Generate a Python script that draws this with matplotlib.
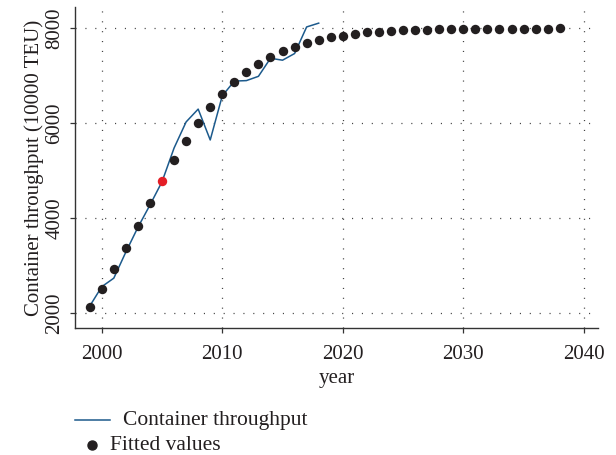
import matplotlib
matplotlib.use("Agg")
import matplotlib.pyplot as plt
from matplotlib.lines import Line2D
import numpy as np

plt.rcParams['font.family'] = ['Liberation Serif', 'DejaVu Serif']

### data
years_obs = list(range(1999, 2019))
throughput = [2150, 2560, 2740, 3290, 3810, 4280, 4770, 5480, 6030, 6300,
              5650, 6580, 6890, 6900, 6990, 7370, 7330, 7470, 8030, 8110]

years_fit = list(range(1999, 2039))
fitted = [2139, 2518, 2940, 3383, 3846, 4325, 4788, 5225, 5638, 6006,
          6337, 6611, 6870, 7081, 7257, 7405, 7525, 7616, 7700, 7757,
          7814, 7848, 7884, 7915, 7930, 7945, 7958, 7968, 7976, 7982,
          7986, 7989, 7991, 7993, 7994, 7995, 7996, 7997, 7997, 7998]
highlight_year = 2005

x_ticks = [2000, 2010, 2020, 2030, 2040]
y_ticks = [2000, 4000, 6000, 8000]

line_color = '#1c5a8c'
dot_color = '#231f20'
red = '#e41e26'
W, H = 616, 455

fig = plt.figure(figsize=(W / 100, H / 100), dpi=100)
ax = fig.add_axes([75 / W, 1 - 328.3 / H, (598.3 - 75) / W, (328.3 - 7) / H])

ax.plot(years_obs, throughput, color=line_color, lw=1.1, zorder=2)

yf = np.array(years_fit)
vf = np.array(fitted)
hl = yf == highlight_year
ax.scatter(yf[~hl], vf[~hl], s=46, color=dot_color, lw=0, zorder=3)
ax.scatter(yf[hl], vf[hl], s=46, color=red, lw=0, zorder=3)

ax.set_xlim(1997.78, 2041.2)
ax.set_ylim(1684, 8450)
ax.set_xticks(x_ticks)
ax.set_yticks(y_ticks)
ax.grid(True, color='#444444', lw=0.9, linestyle=(0, (0.9, 7)))
ax.set_axisbelow(True)

for s in ['top', 'right']:
    ax.spines[s].set_visible(False)
for s in ['left', 'bottom']:
    ax.spines[s].set_color('#333333')
    ax.spines[s].set_linewidth(1.0)

ax.tick_params(direction='out', length=3.8, width=0.9, color='#333333',
               labelsize=15, labelcolor='#231f20')
ax.tick_params(axis='x', pad=8)
ax.tick_params(axis='y', pad=4)
for t in ax.get_yticklabels():
    t.set_rotation(90)
    t.set_va('center')

ax.set_xlabel('year', fontsize=15, color='#231f20', labelpad=4)
ax.set_ylabel('Container throughput (10000 TEU)', fontsize=15,
              color='#231f20', labelpad=0.5)

# legend below the plot
fig.add_artist(Line2D([75 / W, 110 / W], [1 - 420 / H] * 2,
                      color=line_color, lw=1.1))
fig.text(123 / W, 1 - 420 / H, 'Container throughput', fontsize=15.5,
         va='center', ha='left', color='#231f20')
fig.add_artist(Line2D([92.3 / W], [1 - 445 / H], marker='o', markersize=6.5,
                      color=dot_color, lw=0))
fig.text(110 / W, 1 - 445 / H, 'Fitted values', fontsize=15.5,
         va='center', ha='left', color='#231f20')

fig.savefig('out.png', dpi=100)
